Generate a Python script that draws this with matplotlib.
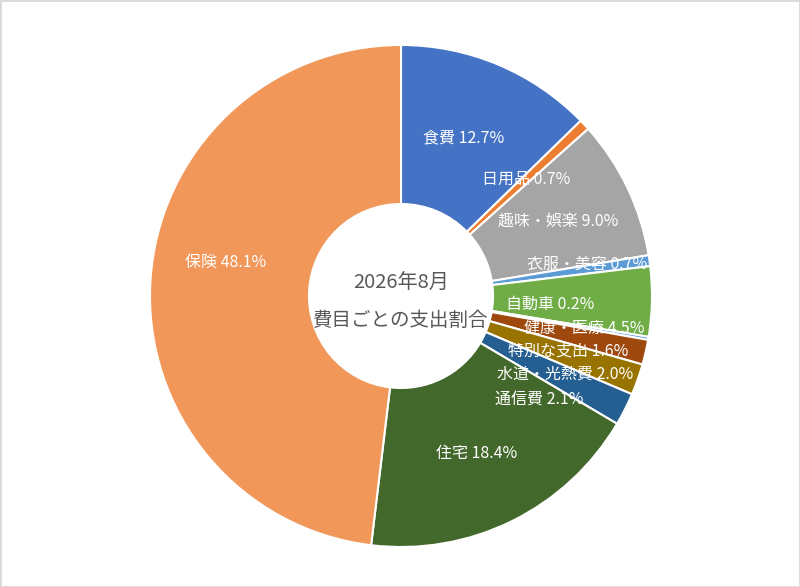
import numpy as np
import matplotlib
matplotlib.use('Agg')
import matplotlib.pyplot as plt
from matplotlib.patches import Rectangle

plt.rcParams['font.family'] = ['Noto Sans CJK JP', 'DejaVu Sans']

# label texts (as printed on the chart, clockwise from 12 o'clock)
categories = ['食費', '日用品', '趣味・娯楽', '衣服・美容', '自動車', '健康・医療',
              '特別な支出', '水道・光熱費', '通信費', '住宅', '保険']
percents = [12.7, 0.7, 9.0, 0.7, 0.2, 4.5, 1.6, 2.0, 2.1, 18.4, 48.1]
# wedge sizes as drawn (5th and 6th wedges appear the other way round)
slice_sizes = [12.7, 0.7, 9.0, 0.7, 4.5, 0.2, 1.6, 2.0, 2.1, 18.4, 48.1]
colors = ['#4472C4', '#ED7D31', '#A5A5A5', '#5B9BD5', '#70AD47', '#5B9BD5',
          '#9E480E', '#997300', '#255E91', '#43682B', '#F1975A']
center_title = '2026年8月'
center_sub = '費目ごとの支出割合'

# label nudges in pixels (dx right, dy down) from the ring middle
nudges = [(-4, 0), (0, 0), (2, 0), (16, -7), (-22, 5), (14, 3),
          (0, 17), (2, 21), (-15, 27), (0, 4), (-4, -23)]

W, H = 800, 587
cx, cy, R = 401, 296, 251   # pixel centre / radius of the ring
hole = 92

fig = plt.figure(figsize=(W / 100, H / 100), dpi=100)
ax = fig.add_axes([0, 0, 1, 1])
wedges, _ = ax.pie(slice_sizes, colors=colors, startangle=90, counterclock=False,
                   radius=1.0,
                   wedgeprops=dict(width=1 - hole / R, edgecolor='white', linewidth=1.5))
ax.set_aspect('auto')
ax.set_xlim(-cx / R, (W - cx) / R)
ax.set_ylim(-(H - cy) / R, cy / R)
ax.axis('off')

mid_r = (1 + hole / R) / 2
for w, name, pct, (ndx, ndy) in zip(wedges, categories, percents, nudges):
    ang = np.deg2rad((w.theta1 + w.theta2) / 2)
    x = mid_r * np.cos(ang) + ndx / R
    y = mid_r * np.sin(ang) - ndy / R
    ax.text(x, y, f'{name} {pct:.1f}%', ha='center', va='center',
            color='white', fontsize=11.5)

ax.text(0, 13 / R, center_title, ha='center', va='center', color='#595959', fontsize=14.5)
ax.text(0, -24 / R, center_sub, ha='center', va='center', color='#595959', fontsize=14)

fig.patches.append(Rectangle((0, 0), 1, 1, transform=fig.transFigure, fill=False,
                             edgecolor='#D9D9D9', linewidth=2))

fig.savefig('out.png', dpi=100)
